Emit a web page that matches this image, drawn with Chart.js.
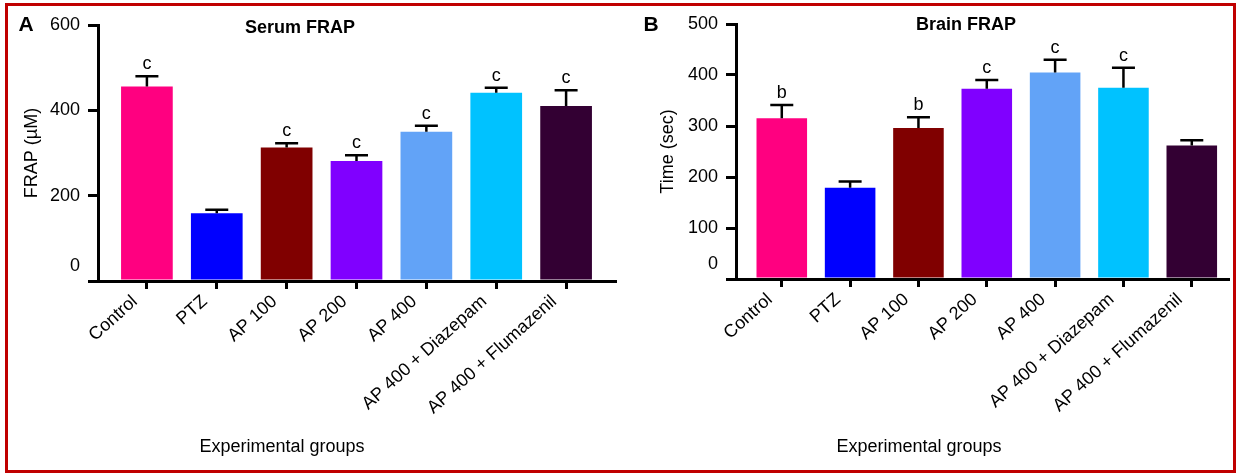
<!DOCTYPE html>
<html>
<head>
<meta charset="utf-8">
<script src="https://cdn.jsdelivr.net/npm/chart.js@4.4.0/dist/chart.umd.min.js"></script>
<style>
  html, body { margin: 0; padding: 0; background: #fff; }
  #wrap { position: relative; width: 1236px; height: 473px; overflow: hidden; }
  #frame { position: absolute; left: 5px; top: 3px; width: 1231px; height: 470px;
           border: 3px solid #c00000; box-sizing: border-box; }
  canvas { position: absolute; top: 0; }
  #serumChart { left: 0; }
  #brainChart { left: 618px; }
</style>
</head>
<body>
<div id="wrap">
  <div id="frame"></div>
  <canvas id="serumChart" width="618" height="473"></canvas>
  <canvas id="brainChart" width="618" height="473"></canvas>
</div>
<script>
const groups = ["Control", "PTZ", "AP 100", "AP 200", "AP 400", "AP 400 + Diazepam", "AP 400 + Flumazenil"];
const barColors = ["#ff0080", "#0000ff", "#800000", "#8000ff", "#62a3f7", "#00c2ff", "#330033"];

// Serum FRAP (µM)
const serumMean = [456, 159, 313, 281, 350, 441, 410];
const serumSem = [24, 8, 10, 14, 14, 12, 37];
const serumLetters = ["c", "", "c", "c", "c", "c", "c"];
const serumTicks = [0, 200, 400, 600];

// Brain FRAP, time (sec)
const brainMean = [315, 179, 296, 373, 405, 375, 262];
const brainSem = [26, 12, 21, 17, 25, 39, 10];
const brainLetters = ["b", "", "b", "c", "c", "c", ""];
const brainTicks = [0, 100, 200, 300, 400, 500];

const FONT = "'Liberation Sans', Arial, sans-serif";
Chart.defaults.font.family = FONT;
Chart.defaults.color = "#000";

// error bars, significance letters and the loose text of each panel
function makeAnnotations(o) {
  return {
    id: "annotations",
    afterDatasetsDraw(chart) {
      const ctx = chart.ctx, x = chart.scales.x, y = chart.scales.y;
      ctx.save();
      ctx.strokeStyle = "#000";
      ctx.fillStyle = "#000";
      ctx.lineWidth = 2.5;
      ctx.font = "18px " + FONT;
      ctx.textAlign = "center";
      ctx.textBaseline = "alphabetic";
      o.mean.forEach((m, i) => {
        const px = x.getPixelForValue(i);
        const base = y.getPixelForValue(m);
        const top = y.getPixelForValue(m + o.sem[i]);
        ctx.beginPath();
        ctx.moveTo(px, base);
        ctx.lineTo(px, top);
        ctx.moveTo(px - 11.5, top);
        ctx.lineTo(px + 11.5, top);
        ctx.stroke();
        if (o.letters[i]) ctx.fillText(o.letters[i], px, top - 7);
      });
      ctx.restore();
    },
    afterDraw(chart) {
      const ctx = chart.ctx, y = chart.scales.y;
      ctx.save();
      ctx.fillStyle = "#000";
      ctx.textBaseline = "middle";
      ctx.textAlign = "center";
      ctx.font = "bold 21px " + FONT;
      ctx.fillText(o.panel, o.panelX, 25);
      ctx.font = "bold 18px " + FONT;
      ctx.fillText(o.title, o.titleX, o.titleY);
      ctx.font = "18px " + FONT;
      ctx.fillText("Experimental groups", o.xTitleX, 447);
      // the zero label sits a little above the baseline
      ctx.textAlign = "right";
      ctx.fillText("0", y.right - 18, y.getPixelForValue(0) - 15);
      ctx.restore();
    }
  };
}

function buildChart(id, o) {
  return new Chart(document.getElementById(id), {
    type: "bar",
    data: {
      datasets: [{
        data: o.mean.map((v, i) => ({ x: i, y: v })),
        backgroundColor: barColors,
        borderWidth: 0,
        barPercentage: 0.74,
        categoryPercentage: 1
      }]
    },
    options: {
      responsive: false,
      animation: false,
      devicePixelRatio: 1,
      layout: { padding: { left: o.padLeft, top: o.top, right: o.padRight, bottom: 0 } },
      plugins: {
        legend: { display: false },
        tooltip: { enabled: false }
      },
      scales: {
        x: {
          type: "linear",
          min: o.xMin,
          max: o.xMax,
          offset: false,
          afterBuildTicks: s => { s.ticks = groups.map((g, i) => ({ value: i })); },
          afterFit: s => { s.height = 473 - o.bottom; },
          ticks: {
            callback: v => groups[v],
            autoSkip: false,
            minRotation: 42,
            maxRotation: 42,
            color: "#000",
            font: { size: 18 },
            padding: 2,
            labelOffset: -12
          },
          grid: { display: true, offset: false, drawOnChartArea: false, drawTicks: true,
                  tickLength: 8, color: "#000", lineWidth: 3 },
          border: { display: true, color: "#000", width: 3 }
        },
        y: {
          min: 0,
          max: o.ticks[o.ticks.length - 1],
          afterBuildTicks: s => { s.ticks = o.ticks.map(v => ({ value: v })); },
          afterFit: s => { s.width = o.axisX - o.padLeft; },
          ticks: {
            callback: v => (v === 0 ? "" : String(v)),
            color: "#000",
            font: { size: 18 },
            padding: 8
          },
          grid: { display: true, drawOnChartArea: false, drawTicks: true,
                  tickLength: 10, color: "#000", lineWidth: 3 },
          border: { display: true, color: "#000", width: 3 },
          title: { display: true, text: o.yTitle, color: "#000", font: { size: 18 }, padding: 0 }
        }
      }
    },
    plugins: [makeAnnotations(o)]
  });
}

buildChart("serumChart", {
  mean: serumMean, sem: serumSem, letters: serumLetters, ticks: serumTicks,
  yTitle: "FRAP (\u00b5M)", panel: "A", panelX: 26, title: "Serum FRAP", titleX: 300, titleY: 28,
  xTitleX: 282, padLeft: 21, axisX: 98, top: 25, bottom: 281, padRight: 3, xMin: -0.7, xMax: 6.7
});

buildChart("brainChart", {
  mean: brainMean, sem: brainSem, letters: brainLetters, ticks: brainTicks,
  yTitle: "Time (sec)", panel: "B", panelX: 33, title: "Brain FRAP", titleX: 348, titleY: 25,
  xTitleX: 301, padLeft: 39, axisX: 118, top: 24, bottom: 279, padRight: 8, xMin: -0.67, xMax: 6.53
});
</script>
</body>
</html>
